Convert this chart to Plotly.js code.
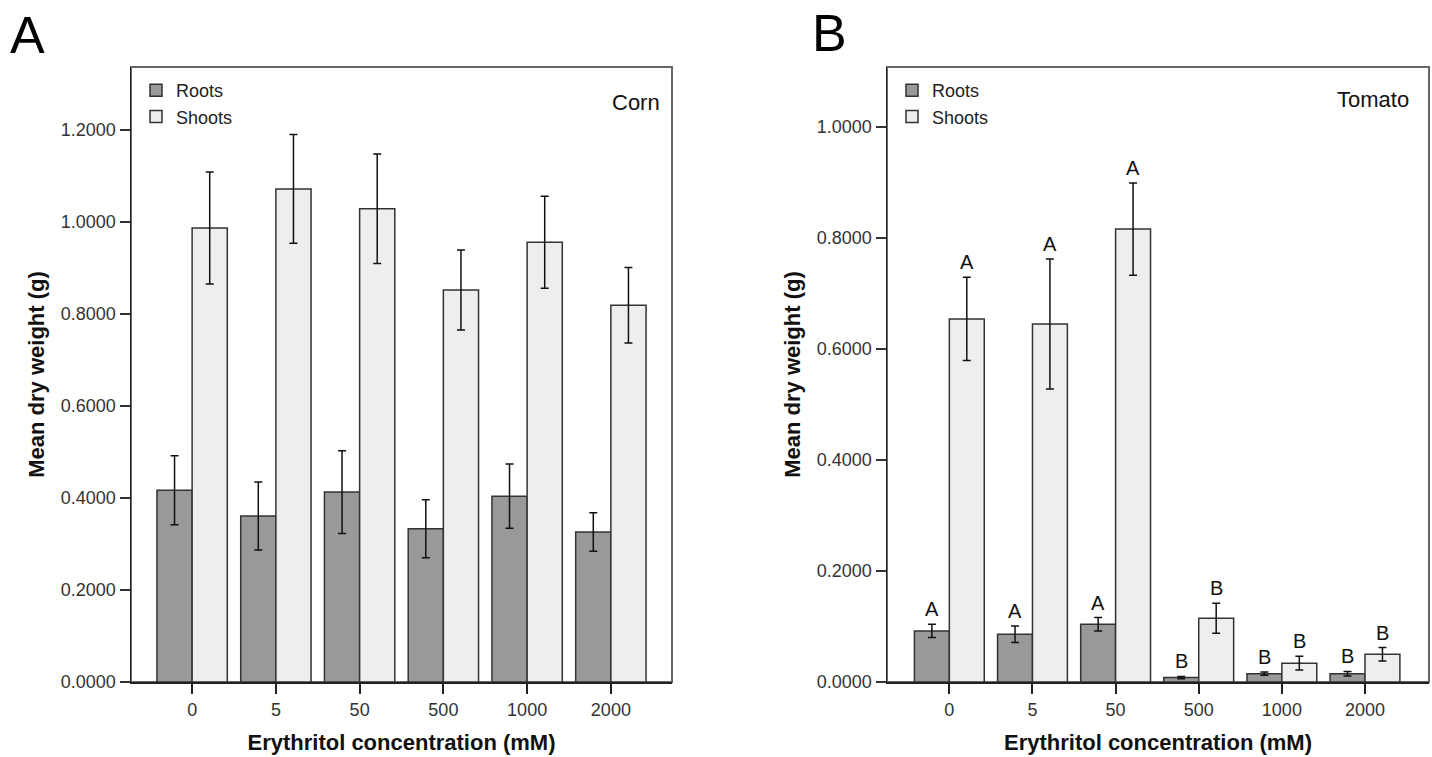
<!DOCTYPE html>
<html>
<head>
<meta charset="utf-8">
<script src="https://cdn.plot.ly/plotly-3.0.1.min.js"></script>
<style>html,body{margin:0;padding:0;background:#fff;}#chart{width:1432px;height:757px;}</style>
</head>
<body>
<div id="chart"></div>
<script>
// ---- Data ----
const categories = ['0', '5', '50', '500', '1000', '2000'];

const cornRoots      = [0.417, 0.361, 0.413, 0.333, 0.404, 0.326];
const cornRootsErr   = [0.075, 0.074, 0.090, 0.063, 0.070, 0.042];
const cornShoots     = [0.987, 1.072, 1.029, 0.852, 0.956, 0.819];
const cornShootsErr  = [0.122, 0.118, 0.119, 0.087, 0.100, 0.082];

const tomatoRoots     = [0.092, 0.086, 0.104, 0.008, 0.015, 0.015];
const tomatoRootsErr  = [0.012, 0.015, 0.012, 0.002, 0.003, 0.004];
const tomatoShoots    = [0.654, 0.645, 0.816, 0.115, 0.034, 0.050];
const tomatoShootsErr = [0.075, 0.117, 0.083, 0.027, 0.0125, 0.012];

const tomatoRootLetters  = ['A', 'A', 'A', 'B', 'B', 'B'];
const tomatoShootLetters = ['A', 'A', 'A', 'B', 'B', 'B'];

const cornYTicks   = [0, 0.2, 0.4, 0.6, 0.8, 1.0, 1.2];
const tomatoYTicks = [0, 0.2, 0.4, 0.6, 0.8, 1.0];

const seriesNames = ['Roots', 'Shoots'];
const panelLabels = ['A', 'B'];
const plantNames  = ['Corn', 'Tomato'];

// ---- Styling ----
const FONT = 'Liberation Sans, Arial, Helvetica, sans-serif';
const rootColor = '#999999';
const shootColor = '#eeeeee';
const barLine = {color: '#333333', width: 1.5};
const bargap = 0.16;
const idx = categories.map((_, i) => i);

function barTrace(y, err, name, color, xa, ya, legend) {
  return {
    type: 'bar', x: idx, y: y, name: name, xaxis: xa, yaxis: ya, legend: legend,
    marker: {color: color, line: barLine},
    error_y: {type: 'data', array: err, visible: true, color: '#111111', thickness: 1.5, width: 4},
    hoverinfo: 'skip'
  };
}

const data = [
  barTrace(cornRoots, cornRootsErr, seriesNames[0], rootColor, 'x', 'y', 'legend'),
  barTrace(cornShoots, cornShootsErr, seriesNames[1], shootColor, 'x', 'y', 'legend'),
  barTrace(tomatoRoots, tomatoRootsErr, seriesNames[0], rootColor, 'x2', 'y2', 'legend2'),
  barTrace(tomatoShoots, tomatoShootsErr, seriesNames[1], shootColor, 'x2', 'y2', 'legend2')
];

const W = 1432, H = 757;
const yDom = [75 / H, 690 / H];

function xAxis(domain, range, anchor) {
  return {
    domain: domain, anchor: anchor, range: range, type: 'linear',
    tickvals: idx, ticktext: categories,
    showline: true, linecolor: '#222222', linewidth: 2,
    ticks: 'outside', ticklen: 10, tickwidth: 2, tickcolor: '#222222',
    showgrid: false, zeroline: false,
    tickfont: {family: FONT, size: 18, color: '#333333'},
    title: {text: 'Erythritol concentration (mM)', font: {family: FONT, size: 22, color: '#111111', weight: 'bold'}, standoff: 16}
  };
}
function yAxis(range, tickvals, anchor) {
  return {
    domain: yDom, anchor: anchor, range: range,
    tickvals: tickvals, tickformat: '.4f',
    showline: true, linecolor: '#222222', linewidth: 1.5,
    ticks: 'outside', ticklen: 10, tickwidth: 1.5, tickcolor: '#333333',
    showgrid: false, zeroline: false,
    tickfont: {family: FONT, size: 18, color: '#333333'},
    title: {text: 'Mean dry weight (g)', font: {family: FONT, size: 22, color: '#111111', weight: 'bold'}, standoff: 10}
  };
}

const offset = (1 - bargap) / 4;
const letterFont = {family: FONT, size: 20, color: '#111111'};
const annotations = [];
tomatoRoots.forEach((v, i) => annotations.push({
  xref: 'x2', yref: 'y2', x: i - offset, y: v + tomatoRootsErr[i], text: tomatoRootLetters[i],
  showarrow: false, yanchor: 'bottom', yshift: 2, font: letterFont
}));
tomatoShoots.forEach((v, i) => annotations.push({
  xref: 'x2', yref: 'y2', x: i + offset, y: v + tomatoShootsErr[i], text: tomatoShootLetters[i],
  showarrow: false, yanchor: 'bottom', yshift: 2, font: letterFont
}));
// plant names
annotations.push({xref: 'x domain', yref: 'y domain', x: 0.982, y: 0.942, xanchor: 'right', yanchor: 'middle',
  text: plantNames[0], showarrow: false, font: {family: FONT, size: 22, color: '#111111'}});
annotations.push({xref: 'x2 domain', yref: 'y2 domain', x: 0.967, y: 0.947, xanchor: 'right', yanchor: 'middle',
  text: plantNames[1], showarrow: false, font: {family: FONT, size: 22, color: '#111111'}});
// panel labels
annotations.push({xref: 'paper', yref: 'paper', x: 27 / W, y: 1 - 35 / H, xanchor: 'center', yanchor: 'middle',
  text: panelLabels[0], showarrow: false, font: {family: FONT, size: 52, color: '#000000'}});
annotations.push({xref: 'paper', yref: 'paper', x: 829 / W, y: 1 - 33 / H, xanchor: 'center', yanchor: 'middle',
  text: panelLabels[1], showarrow: false, font: {family: FONT, size: 52, color: '#000000'}});

const frame = (xr, yr) => ({type: 'rect', xref: xr, yref: yr, x0: 0, x1: 1, y0: 0, y1: 1,
  line: {color: '#666666', width: 2}, layer: 'below'});

const legendStyle = (xpx) => ({
  x: xpx / W, y: 1 - 72 / H, xanchor: 'left', yanchor: 'top',
  bgcolor: 'rgba(0,0,0,0)', borderwidth: 0, tracegroupgap: 0,
  font: {family: FONT, size: 18, color: '#222222'}, itemwidth: 30, traceorder: 'normal'
});

const layout = {
  width: W, height: H, autosize: false,
  margin: {l: 0, r: 0, t: 0, b: 0},
  paper_bgcolor: '#ffffff', plot_bgcolor: '#ffffff',
  barmode: 'group', bargap: bargap, bargroupgap: 0,
  showlegend: true,
  xaxis: xAxis([131 / W, 672 / W], [-0.73, 5.73], 'y'),
  yaxis: yAxis([0, 1.337], cornYTicks, 'x'),
  xaxis2: xAxis([887 / W, 1429 / W], [-0.75, 5.77], 'y2'),
  yaxis2: yAxis([0, 1.108], tomatoYTicks, 'x2'),
  legend: legendStyle(136),
  legend2: legendStyle(892),
  shapes: [frame('x domain', 'y domain'), frame('x2 domain', 'y2 domain')],
  annotations: annotations
};

Plotly.newPlot('chart', data, layout, {staticPlot: true, displayModeBar: false});
</script>
</body>
</html>
